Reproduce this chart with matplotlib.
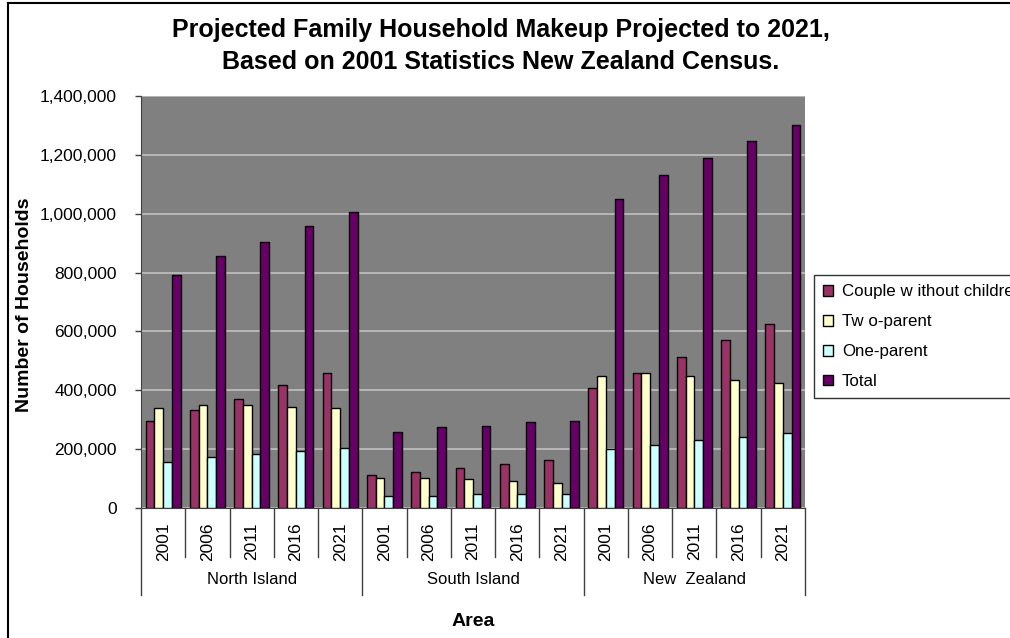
import matplotlib
matplotlib.use("Agg")
import matplotlib.pyplot as plt
import numpy as np
from matplotlib.lines import Line2D
from matplotlib.ticker import FuncFormatter

areas = ["North Island", "South Island", "New  Zealand"]
years = ["2001", "2006", "2011", "2016", "2021"]
series_names = ["Couple w ithout children", "Tw o-parent", "One-parent", "Total"]

couple = [295000, 333000, 370000, 418000, 459000,
          112000, 122000, 136000, 150000, 163000,
          408000, 459000, 513000, 571000, 625000]
two_parent = [340000, 350000, 350000, 343000, 340000,
              102000, 102000, 98000, 92000, 85000,
              449000, 459000, 449000, 435000, 425000]
one_parent = [156000, 173000, 183000, 194000, 204000,
              41000, 41000, 48000, 48000, 48000,
              200000, 214000, 231000, 241000, 255000]
total = [792000, 856000, 904000, 958000, 1006000,
         258000, 275000, 279000, 292000, 296000,
         1050000, 1132000, 1189000, 1247000, 1301000]

colors = ["#993366", "#FFFFCC", "#CCFFFF", "#660066"]
yticks = [0, 200000, 400000, 600000, 800000, 1000000, 1200000, 1400000]

plt.rcParams['font.family'] = ['Liberation Sans', 'DejaVu Sans']

W, H = 1010, 638
fig = plt.figure(figsize=(W / 100, H / 100), dpi=100)
fig.patch.set_facecolor("white")

ax = fig.add_axes([141 / W, (H - 508) / H, 664 / W, 412 / H])
ax.set_facecolor("#808080")

n = len(couple)
x = np.arange(n)
bw = 0.197
data = [couple, two_parent, one_parent, total]
for i, (vals, c, name) in enumerate(zip(data, colors, series_names)):
    ax.bar(x + (i - 1.5) * bw, vals, width=bw, color=c, edgecolor="black",
           linewidth=1.0, label=name, zorder=3)

ax.set_xlim(-0.5, n - 0.5)
ax.set_ylim(0, 1400000)
ax.set_yticks(yticks)
ax.yaxis.set_major_formatter(FuncFormatter(lambda v, p: f"{int(v):,}"))
ax.tick_params(axis='y', direction='out', length=4.3, width=1, colors="#404040",
               labelcolor="black", labelsize=12.5, pad=13)
ax.grid(axis='y', color="#C0C0C0", linewidth=1.2, zorder=1)
ax.set_axisbelow(True)
for s in ["top", "right"]:
    ax.spines[s].set_visible(False)
ax.spines["left"].set_color("#404040")
ax.spines["bottom"].set_color("#404040")

# x tick labels (years) rotated
ax.set_xticks(x)
ax.set_xticklabels(years * len(areas), rotation=90, fontsize=12.5, va='top')
ax.tick_params(axis='x', length=0, pad=10.5)

# separators under the axis
trans = ax.get_xaxis_transform()
px = 1.0 / 412  # one pixel in axes-fraction units
for b in np.arange(-0.5, n, 1.0):
    k = int(round(b + 0.5))
    if k % 5 == 0:
        y0 = -87 * px
    else:
        y0 = -49 * px
    ax.add_line(Line2D([b, b], [0, y0], transform=trans, color="#404040",
                       linewidth=1.0, clip_on=False))

for gi, name in enumerate(areas):
    ax.text(gi * 5 + 2, -72 * px, name, transform=trans, ha='center',
            va='center', fontsize=12)

ax.text(7, -113 * px, "Area", transform=trans, ha='center', va='center',
        fontsize=14, fontweight='bold')

ax.set_ylabel("Number of Households", fontsize=14, fontweight='bold')
ax.yaxis.set_label_coords(-116 / 664, 0.49, transform=None)
ax.yaxis.label.set_position((25 / W, (H - 305) / H))
ax.yaxis.label.set_transform(fig.transFigure)
ax.yaxis.label.set_verticalalignment('center')

fig.text(501 / W, 1 - 30 / H, "Projected Family Household Makeup Projected to 2021,",
         ha='center', va='center', fontsize=18, fontweight='bold')
fig.text(501 / W, 1 - 62 / H, "Based on 2001 Statistics New Zealand Census.",
         ha='center', va='center', fontsize=18, fontweight='bold')

leg = fig.legend(loc='upper left', bbox_to_anchor=(814 / W, 1 - 275 / H),
                 frameon=True, fancybox=False, edgecolor="black", fontsize=12.2,
                 handlelength=0.6, handleheight=0.6, handletextpad=0.5,
                 labelspacing=0.88, borderpad=0.55, borderaxespad=0)
leg.get_frame().set_linewidth(1.0)

# outer chart border (clipped at right/bottom)
fig.add_artist(Line2D([8 / W, 8 / W], [0, 1 - 3 / H], transform=fig.transFigure,
                      color="black", linewidth=1.5))
fig.add_artist(Line2D([8 / W, 1], [1 - 3 / H, 1 - 3 / H], transform=fig.transFigure,
                      color="black", linewidth=1.5))

fig.savefig("out.png", dpi=100)
